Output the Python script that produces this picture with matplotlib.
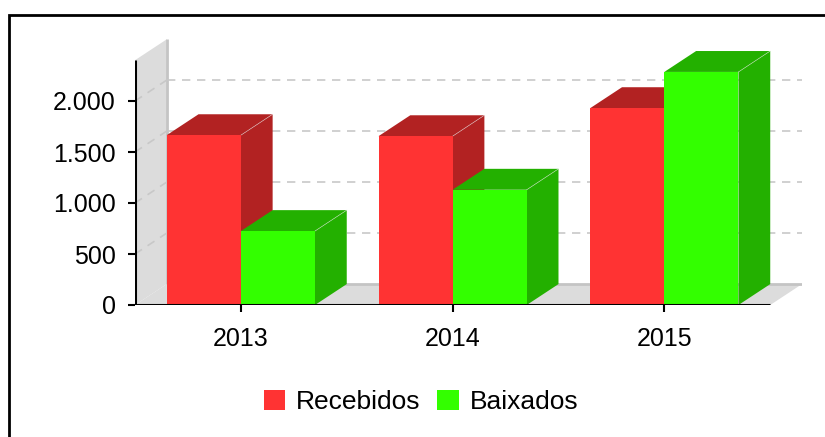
import matplotlib
matplotlib.use("Agg")
import matplotlib.pyplot as plt
from matplotlib.patches import Polygon, Rectangle, Patch
import numpy as np

plt.rcParams['font.family'] = ['Liberation Sans', 'DejaVu Sans']

# ---- data ----
categories = ["2013", "2014", "2015"]
series_names = ["Recebidos", "Baixados"]
recebidos = [1665, 1655, 1930]
baixados = [725, 1130, 2285]
y_ticks = [0, 500, 1000, 1500, 2000]
y_tick_labels = ["0", "500", "1.000", "1.500", "2.000"]

# ---- style ----
front_colors = ["#ff3333", "#33ff00"]
dark_colors = ["#b22222", "#23b000"]
wall_color = "#dcdcdc"
wall_edge = "#c4c4c4"
grid_color = "#c8c8c8"
YMAX = 2400
DX = 0.15      # depth offset in category units
DY = 205       # depth offset in value units
BAR_W = 0.35

W, H = 825, 437
fig = plt.figure(figsize=(W / 100, H / 100), dpi=100)

n = len(categories)
x = np.arange(n)
x_left, x_right = -0.5, n - 0.5

# axes placement in pixels
ax_l, ax_r = 135, 802
ax_b = 305
px_per_val = 0.102
ax_h = (YMAX + DY) * px_per_val
ax = fig.add_axes([ax_l / W, (H - ax_b) / H, (ax_r - ax_l) / W, ax_h / H])
ax.set_xlim(x_left, x_right + DX)
ax.set_ylim(0, YMAX + DY)
for s in ax.spines.values():
    s.set_visible(False)
ax.patch.set_visible(False)

# left wall
ax.add_patch(Polygon([(x_left, 0), (x_left + DX, DY), (x_left + DX, YMAX + DY), (x_left, YMAX)],
                     closed=True, facecolor=wall_color, edgecolor='none', zorder=1))
# floor
ax.add_patch(Polygon([(x_left, 0), (x_right, 0), (x_right + DX, DY), (x_left + DX, DY)],
                     closed=True, facecolor=wall_color, edgecolor='none', zorder=1))
# wall edges
ax.plot([x_left + DX, x_right + DX], [DY, DY], color=wall_edge, lw=2, zorder=1.5, solid_capstyle='butt')
ax.plot([x_left + DX, x_left + DX], [DY, YMAX + DY], color=wall_edge, lw=2, zorder=1.5, solid_capstyle='butt')

# gridlines
for v in y_ticks[1:]:
    ax.plot([x_left + DX, x_right + DX], [v + DY, v + DY], color=grid_color, lw=1.2,
            dashes=(5, 4), zorder=2)
    ax.plot([x_left, x_left + DX], [v, v + DY], color=grid_color, lw=1.2,
            dashes=(5, 4), zorder=2)

# bars
z = 3
for i in range(n):
    for s, vals in enumerate([recebidos, baixados]):
        v = vals[i]
        x0 = x[i] - BAR_W + s * BAR_W
        x1 = x0 + BAR_W
        # side face
        ax.add_patch(Polygon([(x1, 0), (x1 + DX, DY), (x1 + DX, v + DY), (x1, v)], closed=True,
                             facecolor=dark_colors[s], edgecolor='none', zorder=z))
        # top face
        ax.add_patch(Polygon([(x0, v), (x0 + DX, v + DY), (x1 + DX, v + DY), (x1, v)], closed=True,
                             facecolor=dark_colors[s], edgecolor='none', zorder=z))
        ax.plot([x1, x1 + DX], [v, v + DY], color="#e8e8e8", lw=0.5, alpha=0.6, zorder=z + 0.1)
        ax.bar(x0, v, width=BAR_W, align='edge', color=front_colors[s], edgecolor='none',
               zorder=z + 0.2)
        z += 1

# front axes lines
ax.plot([x_left, x_left], [0, YMAX], color='black', lw=2.2, zorder=50, solid_capstyle='butt')
ax.plot([x_left, x_right], [0, 0], color='black', lw=2.2, zorder=50, solid_capstyle='butt')

ax.set_yticks(y_ticks)
ax.set_yticklabels(y_tick_labels)
ax.set_xticks(x)
ax.set_xticklabels(categories)
ax.tick_params(axis='y', length=5, width=1.5, pad=9, labelsize=18, colors='black')
ax.tick_params(axis='x', length=5, width=1.5, pad=11, labelsize=18, colors='black')

# legend
handles = [Patch(facecolor=c, edgecolor='none') for c in front_colors]
fig.legend(handles, series_names, loc='center', bbox_to_anchor=(421 / W, 1 - 402 / H),
           ncol=2, frameon=False, fontsize=19, handlelength=0.82, handleheight=0.8,
           handletextpad=0.42, columnspacing=0.62)

# outer frame
fig.add_artist(Rectangle((8.7 / W, -0.2), 1.2, (H - 14.5) / H + 0.2, transform=fig.transFigure,
                         fill=False, edgecolor='black', lw=2, clip_on=False))

fig.savefig("out.png", dpi=100)
